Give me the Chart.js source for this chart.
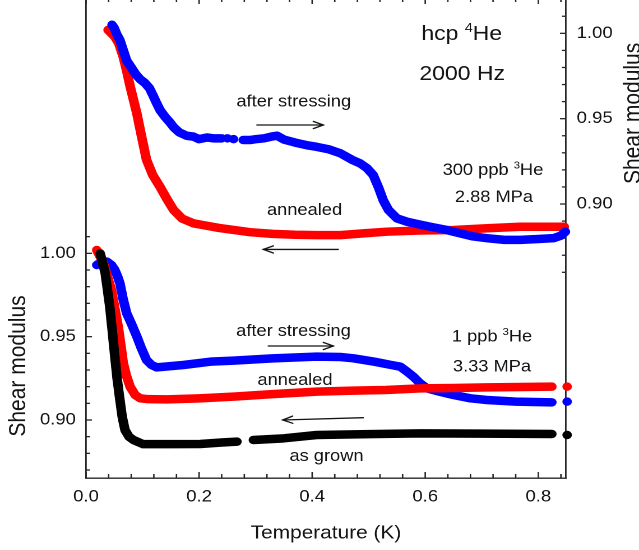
<!DOCTYPE html>
<html>
<head>
<meta charset="utf-8">
<script src="https://cdn.jsdelivr.net/npm/chart.js@4.4.1/dist/chart.umd.min.js"></script>
<style>
  html, body { margin: 0; padding: 0; background: #fff; overflow: hidden; width: 639px; height: 550px; }
  #wrap { position: absolute; left: 0; top: -10px; width: 570px; height: 560px;
          transform: scaleX(1.1210526); transform-origin: 0 0; }
  #c { display: block; width: 570px; height: 560px; }
</style>
</head>
<body>
<div id="wrap"><canvas id="c" width="570" height="560"></canvas></div>
<script>
// ---------------- data ----------------
// Upper pair (right axis): 300 ppb 3He, 2.88 MPa
const T_300_STRESSED = [0.046,0.050,0.055,0.060,0.066,0.072,0.080,0.088,0.096,0.104,0.112,0.118,0.125,0.131,0.140,0.148,0.155,0.165,0.178,0.190,0.200,0.214,0.225,0.240,
  0.245,0.250,0.255,0.261,0.270,
  0.278,0.290,0.300,0.315,0.328,0.338,0.350,0.370,0.390,0.408,0.430,0.450,0.470,0.485,0.497,0.508,0.517,0.526,0.535,0.550,0.568,0.590,0.609,0.635,0.662,0.685,0.709,0.740,0.768,0.800,0.827,0.840,0.848];
const G_300_STRESSED = [1.005,1.003,0.999,0.996,0.990,0.984,0.980,0.976,0.973,0.971,0.968,0.964,0.959,0.955,0.951,0.948,0.945,0.942,0.940,0.9395,0.938,0.939,0.9385,0.9385,
  null,0.9385,null,0.938,null,
  0.9375,0.9375,0.938,0.9385,0.9395,0.940,0.9378,0.936,0.9345,0.9335,0.932,0.9297,0.926,0.9238,0.921,0.917,0.910,0.902,0.8965,0.8916,0.8896,0.888,0.8867,0.885,0.8828,0.881,0.880,0.879,0.879,0.8795,0.880,0.8815,0.8838];
const T_300_ANNEALED = [0.039,0.045,0.051,0.058,0.066,0.072,0.078,0.084,0.090,0.098,0.107,0.118,0.131,0.143,0.155,0.170,0.190,0.210,0.235,0.261,0.290,0.330,0.370,0.408,0.450,0.490,0.532,0.590,0.650,0.710,0.768,0.846];
const G_300_ANNEALED = [1.002,1.000,0.998,0.994,0.986,0.978,0.969,0.961,0.953,0.940,0.926,0.917,0.910,0.903,0.8965,0.8915,0.8887,0.8875,0.886,0.8848,0.8835,0.8825,0.882,0.8818,0.8818,0.8828,0.8838,0.8845,0.8848,0.8858,0.8867,0.8867];

// Lower trio (left axis): 1 ppb 3He, 3.33 MPa
const T_1_STRESSED = [0.019,0.028,0.037,0.045,0.051,0.056,0.060,0.066,0.072,0.080,0.090,0.098,0.107,0.116,0.125,0.140,0.172,0.220,0.261,0.330,0.408,0.450,0.473,0.510,0.540,0.556,0.568,0.579,0.591,0.603,0.625,0.650,0.680,0.709,0.760,0.824,0.838,0.851];
const G_1_STRESSED = [0.993,0.995,0.995,0.993,0.990,0.986,0.982,0.972,0.964,0.958,0.950,0.943,0.936,0.933,0.9316,0.932,0.933,0.935,0.9356,0.937,0.938,0.9378,0.937,0.935,0.933,0.932,0.929,0.926,0.922,0.919,0.917,0.915,0.913,0.912,0.911,0.9106,null,0.911];
const T_1_ANNEALED = [0.019,0.025,0.031,0.038,0.045,0.051,0.057,0.062,0.066,0.072,0.078,0.087,0.096,0.110,0.143,0.200,0.261,0.330,0.408,0.473,0.530,0.591,0.650,0.709,0.770,0.824,0.838,0.851];
const G_1_ANNEALED = [1.002,0.998,0.994,0.986,0.978,0.967,0.956,0.944,0.934,0.926,0.920,0.915,0.913,0.9125,0.9124,0.913,0.914,0.9155,0.917,0.9176,0.918,0.919,0.9192,0.9196,0.9198,0.920,null,0.920];
const T_1_GROWN = [0.025,0.029,0.034,0.038,0.042,0.046,0.051,0.055,0.060,0.064,0.069,0.076,0.084,0.101,0.150,0.202,0.240,0.267,0.282,0.296,0.350,0.408,0.500,0.591,0.700,0.824,0.838,0.851];
const G_1_GROWN = [1.000,0.995,0.988,0.978,0.968,0.955,0.938,0.925,0.912,0.902,0.894,0.890,0.888,0.8855,0.8855,0.8856,0.8865,0.887,null,0.888,0.889,0.891,0.8915,0.892,0.8918,0.8916,null,0.891];

// tick values
const X_TICK_LABELS = [0.0, 0.2, 0.4, 0.6, 0.8];
const X_MINOR_TICKS = [0.04,0.08,0.12,0.16,0.24,0.28,0.32,0.36,0.44,0.48,0.52,0.56,0.64,0.68,0.72,0.76,0.84];
const Y_TICK_LABELS = [0.90, 0.95, 1.00];
const YL_MINOR_TICKS = [0.87,0.88,0.89,0.91,0.92,0.93,0.94,0.96,0.97,0.98,0.99,1.01];
const YR_MINOR_TICKS = [0.86,0.87,0.88,0.89,0.91,0.92,0.93,0.94,0.96,0.97,0.98,0.99,1.01,1.02];

// ---------------- styling / layout ----------------
const SX = 639 / 570;               // horizontal stretch of the original figure
const FONT = '"Liberation Sans", Arial, Helvetica, sans-serif';
const INK = '#141414';
const AXIS = '#262626';
const RED = '#ff0000', BLUE = '#0000ff', BLACK = '#000000';

// annotation texts (positions in data units of the named axis)
const TEXTS = [
  {ax: 'yR', x: 0.6645, y: 0.9961, size: 20.5, parts: [['hcp '], ['4', 1], ['He']]},
  {ax: 'yR', x: 0.6654, y: 0.9726, size: 20.5, parts: [['2000 Hz']]},
  {ax: 'yR', x: 0.3674, y: 0.9570, size: 16.3, parts: [['after stressing']]},
  {ax: 'yR', x: 0.3865, y: 0.8936, size: 16.3, parts: [['annealed']]},
  {ax: 'yR', x: 0.7198, y: 0.9170, size: 16.3, parts: [['300 ppb '], ['3', 1], ['He']]},
  {ax: 'yR', x: 0.7216, y: 0.9013, size: 16.3, parts: [['2.88 MPa']]},
  {ax: 'yL', x: 0.3670, y: 0.9504, size: 16.3, parts: [['after stressing']]},
  {ax: 'yL', x: 0.3697, y: 0.9210, size: 16.3, parts: [['annealed']]},
  {ax: 'yL', x: 0.4254, y: 0.8754, size: 16.3, parts: [['as grown']]},
  {ax: 'yL', x: 0.7181, y: 0.9470, size: 16.3, parts: [['1 ppb '], ['3', 1], ['He']]},
  {ax: 'yL', x: 0.7181, y: 0.9290, size: 16.3, parts: [['3.33 MPa']]}
];
const ARROWS = [
  {ax: 'yR', x1: 0.3024, y1: 0.9463, x2: 0.4197, y2: 0.9463},
  {ax: 'yR', x1: 0.4462, y1: 0.8734, x2: 0.3136, y2: 0.8734},
  {ax: 'yL', x1: 0.3224, y1: 0.9444, x2: 0.4374, y2: 0.9444},
  {ax: 'yL', x1: 0.4904, y1: 0.9014, x2: 0.3479, y2: 0.9000}
];

const pts = (T, G) => T.map((t, i) => ({x: t, y: G[i]}));
const isolated = c => {
  const d = c.dataset.data, i = c.dataIndex;
  if (!d[i] || d[i].y == null) return false;
  const p = d[i - 1], n = d[i + 1];
  return (!p || p.y == null) && (!n || n.y == null);
};
const series = (label, data, color, axis) => ({
  label, data, yAxisID: axis,
  borderColor: color, backgroundColor: color,
  pointBackgroundColor: color, pointBorderWidth: 0,
  borderWidth: 8.5, borderCapStyle: 'round', borderJoinStyle: 'round',
  pointRadius: c => isolated(c) ? 3 : 0, pointHoverRadius: 0,
  tension: 0, fill: false, spanGaps: false, clip: 10
});

function drawRich(ctx, parts, cx, baseY, size) {
  const sup = size * 0.62, rise = size * 0.4;
  let w = 0;
  parts.forEach(p => { ctx.font = (p[1] ? sup : size) + 'px ' + FONT; w += ctx.measureText(p[0]).width; });
  let xx = cx - w / 2;
  ctx.textAlign = 'left'; ctx.textBaseline = 'alphabetic';
  parts.forEach(p => {
    ctx.font = (p[1] ? sup : size) + 'px ' + FONT;
    ctx.fillText(p[0], xx, baseY - (p[1] ? rise : 0));
    xx += ctx.measureText(p[0]).width;
  });
}

function arrow(ctx, x1, y1, x2, y2) {
  ctx.beginPath(); ctx.moveTo(x1, y1); ctx.lineTo(x2, y2); ctx.stroke();
  const dx = (x2 - x1) * SX, dy = y2 - y1, L = Math.hypot(dx, dy), ux = dx / L, uy = dy / L;
  const hl = 10, hw = 3.6;
  ctx.beginPath();
  ctx.moveTo(x2 + (-ux * hl - uy * hw) / SX, y2 + (-uy * hl + ux * hw));
  ctx.lineTo(x2, y2);
  ctx.lineTo(x2 + (-ux * hl + uy * hw) / SX, y2 + (-uy * hl - ux * hw));
  ctx.stroke();
}

const decor = {
  id: 'decor',
  beforeDatasetsDraw(chart) {
    const {ctx, chartArea: a, scales: {x, yL, yR}} = chart;
    ctx.save();
    ctx.strokeStyle = AXIS; ctx.lineWidth = 1.3; ctx.lineCap = 'butt';
    const seg = (x1, y1, x2, y2) => { ctx.beginPath(); ctx.moveTo(x1, y1); ctx.lineTo(x2, y2); ctx.stroke(); };
    const xt = (vals, len) => vals.forEach(v => {
      const p = x.getPixelForValue(v);
      seg(p, a.bottom, p, a.bottom - len); seg(p, a.top, p, a.top + len);
    });
    xt(X_TICK_LABELS, 6); xt(X_MINOR_TICKS, 4);
    const yt = (sc, vals, len, left) => vals.forEach(v => {
      const p = sc.getPixelForValue(v), e = left ? a.left : a.right;
      seg(e, p, e + (left ? 1 : -1) * len / SX, p);
    });
    yt(yL, Y_TICK_LABELS, 6, true); yt(yL, YL_MINOR_TICKS, 4, true);
    yt(yR, Y_TICK_LABELS, 6, false); yt(yR, YR_MINOR_TICKS, 4, false);
    ctx.lineWidth = 1.4; seg(a.left, a.top, a.right, a.top);
    ctx.restore();
  },
  afterDraw(chart) {
    const {ctx, chartArea: a, scales} = chart;
    const x = scales.x;
    ctx.save();
    ctx.fillStyle = INK;
    TEXTS.forEach(t => drawRich(ctx, t.parts, x.getPixelForValue(t.x), scales[t.ax].getPixelForValue(t.y), t.size));
    ctx.strokeStyle = INK; ctx.lineWidth = 1.3; ctx.lineCap = 'round'; ctx.lineJoin = 'miter';
    ARROWS.forEach(r => arrow(ctx, x.getPixelForValue(r.x1), scales[r.ax].getPixelForValue(r.y1),
                                   x.getPixelForValue(r.x2), scales[r.ax].getPixelForValue(r.y2)));
    // axis titles
    ctx.textAlign = 'center'; ctx.textBaseline = 'alphabetic';
    ctx.font = '18.6px ' + FONT;
    ctx.fillText('Temperature (K)', (a.left + a.right) / 2, a.bottom + 60.3);
    ctx.font = '21px ' + FONT;
    ctx.save(); ctx.translate(a.left - 54.4, scales.yL.getPixelForValue(0.9324)); ctx.rotate(-Math.PI / 2);
    ctx.fillText('Shear modulus', 0, 0); ctx.restore();
    ctx.save(); ctx.translate(a.right + 66, scales.yR.getPixelForValue(0.9531)); ctx.rotate(-Math.PI / 2);
    ctx.fillText('Shear modulus', 0, 0); ctx.restore();
    ctx.restore();
  }
};

const noPad = s => { s.paddingTop = 0; s.paddingBottom = 0; s.paddingLeft = 0; s.paddingRight = 0; };
const tickFont = {family: FONT, size: 16.5};
new Chart(document.getElementById('c'), {
  type: 'line',
  data: {
    datasets: [
      series('as grown (1 ppb)', pts(T_1_GROWN, G_1_GROWN), BLACK, 'yL'),
      series('annealed (1 ppb)', pts(T_1_ANNEALED, G_1_ANNEALED), RED, 'yL'),
      series('after stressing (1 ppb)', pts(T_1_STRESSED, G_1_STRESSED), BLUE, 'yL'),
      series('after stressing (300 ppb)', pts(T_300_STRESSED, G_300_STRESSED), BLUE, 'yR'),
      series('annealed (300 ppb)', pts(T_300_ANNEALED, G_300_ANNEALED), RED, 'yR')
    ]
  },
  options: {
    responsive: false, animation: false, devicePixelRatio: 2, events: [],
    layout: {padding: {top: 8, left: 0, right: 0, bottom: 0}},
    plugins: {legend: {display: false}, tooltip: {enabled: false}, title: {display: false}},
    scales: {
      x: {
        type: 'linear', position: 'bottom', min: 0, max: 0.849,
        afterFit: s => { s.height = 72; noPad(s); },
        afterBuildTicks: s => { s.ticks = X_TICK_LABELS.map(v => ({value: v})); },
        ticks: {callback: v => Number(v).toFixed(1), padding: 9, color: INK, font: tickFont, autoSkip: false, maxRotation: 0},
        grid: {drawOnChartArea: false, drawTicks: false},
        border: {color: AXIS, width: 1.4}
      },
      yL: {
        type: 'linear', position: 'left', min: 0.8652, max: 1.1532,
        afterFit: s => { s.width = 76.71; noPad(s); },
        afterBuildTicks: s => { s.ticks = Y_TICK_LABELS.map(v => ({value: v})); },
        ticks: {callback: v => Number(v).toFixed(2), padding: 9, color: INK, font: tickFont, autoSkip: false},
        grid: {drawOnChartArea: false, drawTicks: false},
        border: {color: AXIS, width: 1.4}
      },
      yR: {
        type: 'linear', position: 'right', min: 0.7395, max: 1.0207,
        afterFit: s => { s.width = 570 - 504.88; noPad(s); },
        afterBuildTicks: s => { s.ticks = Y_TICK_LABELS.map(v => ({value: v})); },
        ticks: {callback: v => Number(v).toFixed(2), padding: 9.5, color: INK, font: tickFont, autoSkip: false},
        grid: {drawOnChartArea: false, drawTicks: false},
        border: {color: AXIS, width: 1.4}
      }
    }
  },
  plugins: [decor]
});
</script>
</body>
</html>
